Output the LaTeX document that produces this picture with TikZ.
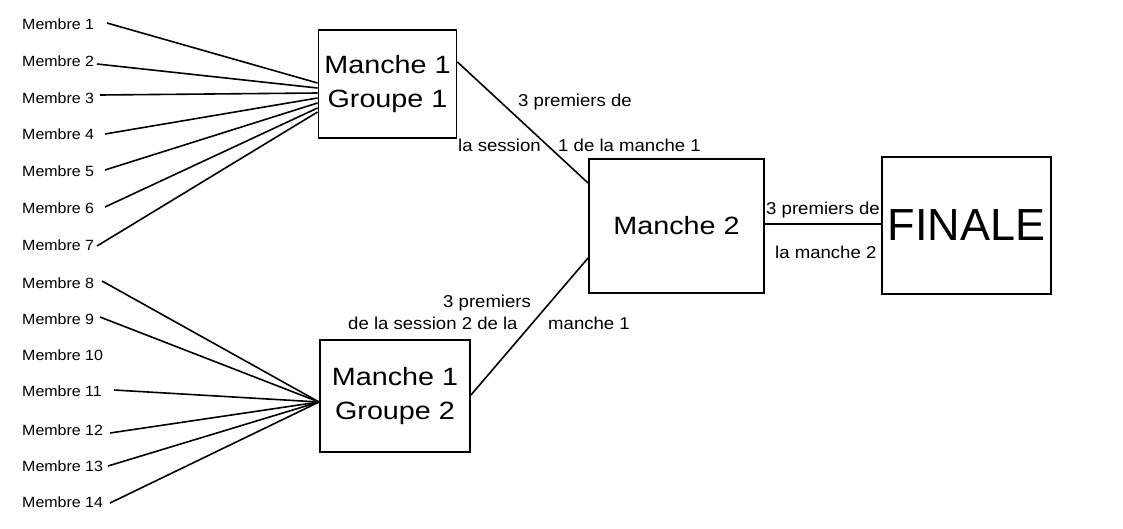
\documentclass[tikz,border=0pt]{standalone}
\usepackage{fontspec}
\setmainfont{Liberation Sans}
\newfontfamily\widefont[FakeStretch=1.15]{Liberation Sans}
\newfontfamily\memfont[FakeStretch=1.08]{Liberation Sans}
\begin{document}
\begin{tikzpicture}[x=1pt,y=-1pt,
  box/.style={draw,line width=1.9pt,inner sep=0pt,align=center},
  mem/.style={anchor=west,inner sep=0pt,font=\memfont\fontsize{14.8}{16}\selectfont},
  lbl/.style={anchor=west,inner sep=0pt,font=\memfont\fontsize{17.2}{18}\selectfont},
  link/.style={line width=1.6pt},
  big/.style={font=\widefont\fontsize{25}{34}\selectfont}]
\useasboundingbox (0,0) rectangle (1123,528);
\fill[white] (0,0) rectangle (1123,528);
% boxes
\node[box,big,minimum width=138pt,minimum height=108pt] (g1) at (387.5,84) {Manche 1\\Groupe 1};
\node[box,big,minimum width=150pt,minimum height=112pt] (g2) at (395,396) {Manche 1\\Groupe 2};
\node[box,big,minimum width=175pt,minimum height=134pt] (m2) at (676.5,226) {Manche 2};
\node[box,font=\fontsize{45}{50}\selectfont,minimum width=169pt,minimum height=137pt] (fin) at (966.5,225.5) {FINALE};
% members
\foreach \i/\y in {1/24,2/61,3/98,4/134,5/171,6/208,7/245,8/283,9/319,10/355,11/391,12/430,13/466,14/502}
  \node[mem] (mb\i) at (22,\y) {Membre \i};
% line starts
\coordinate (s1) at (107,23);
\coordinate (s2) at (97,64);
\coordinate (s3) at (100,95);
\coordinate (s4) at (105,134);
\coordinate (s5) at (105,170);
\coordinate (s6) at (105,207);
\coordinate (s7) at (97,246);
\coordinate (s8) at (102,281);
\coordinate (s9) at (100,317);
\coordinate (s11) at (114,390);
\coordinate (s12) at (110,433);
\coordinate (s13) at (108,466);
\coordinate (s14) at (110,503);
\foreach \i/\d in {1/1,2/-4,3/-9,4/-14,5/-19,6/-24,7/-28}
  \draw[link] (s\i) -- ([yshift=\d pt]g1.west);
\foreach \i in {8,9,11,12,13,14}
  \draw[link] (s\i) -- ([yshift=-6pt]g2.west);
% connectors between rounds
\draw[link] ([yshift=22pt]g1.east) -- ([yshift=43pt]m2.west);
\draw[link] ([yshift=1pt]g2.east) -- ([yshift=-32pt]m2.west);
\draw[link] ([yshift=2pt]m2.east) -- ([yshift=1.5pt]fin.west);
% labels
\node[lbl] (l1a) at (518,102) {3 premiers de};
\node[lbl] (l1b) at (458,145) {la session};
\node[lbl] (l1c) at (558,145) {1 de la manche 1};
\node[lbl] (l2a) at (443,303) {3 premiers};
\node[lbl] (l2b) at (348,323) {de la session 2 de la};
\node[lbl] (l2c) at (548,323) {manche 1};
\node[lbl] (l3a) at (766,210) {3 premiers de};
\node[lbl] (l3b) at (775,252) {la manche 2};
\end{tikzpicture}
\end{document}
